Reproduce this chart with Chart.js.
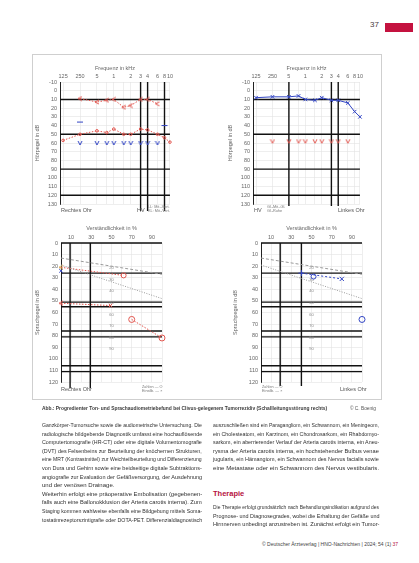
<!DOCTYPE html>
<html lang="de">
<head>
<meta charset="utf-8">
<title>Ton- und Sprachaudiogramm</title>
<script src="https://cdn.jsdelivr.net/npm/chart.js@4.4.1/dist/chart.umd.min.js"></script>
<style>
    html, body { margin: 0; padding: 0; background: #fff; }
    body { width: 419px; height: 563px; position: relative; overflow: hidden; font-family: 'Liberation Sans', Arial, sans-serif; color: #333; }
    .abs { position: absolute; white-space: nowrap; }
    canvas { position: absolute; }
    #pageNo { left: 370px; top: 20px; font-size: 8px; color: #4a3a40; }
    #pageBar { left: 385px; top: 23px; width: 28px; height: 9px; background: #c4123f; }
    #figBox { left: 32px; top: 54px; width: 348px; height: 344px; border: 1px solid #cfcfcf; }
    .foot { font-size: 5.5px; color: #555; line-height: 6px; }
    .tiny { font-size: 3.8px; color: #777; line-height: 4.4px; }
    #caption { left: 42px; top: 406px; font-size: 4.9px; font-weight: bold; color: #3a3a3a; }
    #credit { left: 350px; top: 406px; font-size: 4.8px; color: #555; }
    .line { position: absolute; white-space: nowrap; font-size: 6px; color: #303030; transform-origin: 0 0; }
    #therapie { left: 213px; top: 489px; font-size: 7.5px; font-weight: bold; color: #b5123e; }
    #footer { left: 262px; top: 541px; font-size: 5px; color: #444; }
    #footer span { color: #b5123e; }
</style>
</head>
<body>
<div id="pageNo" class="abs">37</div>
<div id="pageBar" class="abs"></div>
<div id="figBox" class="abs"></div>

<canvas id="audioRechts" width="141" height="156" style="left:34px;top:60px"></canvas>
<canvas id="audioLinks" width="138" height="156" style="left:227px;top:60px"></canvas>
<canvas id="sprachRechts" width="133" height="172" style="left:34px;top:224px"></canvas>
<canvas id="sprachLinks" width="135" height="172" style="left:232px;top:224px"></canvas>

<div class="abs foot" style="left:61px;top:207px">Rechtes Ohr</div>
<div class="abs foot" style="left:137px;top:207px">HV</div>
<div class="abs tiny" style="left:148px;top:205px">LL: Mit.-Vert.<br>KL: Mit.-Vert.</div>
<div class="abs foot" style="left:254px;top:207px">HV</div>
<div class="abs tiny" style="left:267px;top:205px">Gl.-Mit.-Gl.<br>Gl.-Ruhe</div>
<div class="abs foot" style="left:338px;top:207px">Linkes Ohr</div>
<div class="abs foot" style="left:61px;top:386px">Rechtes Ohr</div>
<div class="abs tiny" style="left:142px;top:385px">Zahlen — O<br>Einsilb. — ×</div>
<div class="abs tiny" style="left:262px;top:385px">Zahlen — O<br>Einsilb. — ×</div>
<div class="abs foot" style="left:340px;top:386px">Linkes Ohr</div>

<div id="caption" class="abs">Abb.: Progredienter Ton- und Sprachaudiometriebefund bei Clivus-gelegenem Tumorrezidiv (Schallleitungsstörung rechts)</div>
<div id="credit" class="abs">© C. Boenig</div>

<div id="therapie" class="abs">Therapie</div>
<div id="footer" class="abs">© Deutscher Ärzteverlag | HNO-Nachrichten | 2024; 54 (1) <span>37</span></div>

<script>
// Tonaudiogramm: Frequenzachse
var freqTicks = [0.125, 0.25, 0.5, 0.75, 1, 1.5, 2, 3, 4, 6, 8, 10];
var freqTickLabels = ['125', '250', '5', '', '1', '', '2', '3', '4', '6', '8', '10'];

// rechtes Ohr
var reKlFreq = [0.25, 0.5, 0.75, 1, 1.5, 2, 3, 4, 6];
var reKlDb = [9, 13, 11, 10, 19, 17, 10, 10, 15];
var reLlFreq = [0.125, 0.25, 0.5, 0.75, 1, 1.5, 2, 3, 4, 6, 8, 10];
var reLlDb = [57, 50, 46, 48, 44, 50, 50, 44, 45, 50, 54, 59];
var reUclFreq = [0.25, 0.5, 0.75, 1, 1.5, 2, 3, 4, 6];
var reUclDb = [60, 60, 60, 60, 60, 60, 60, 60, 60];
var reMarkFreq = [0.25, 8];
var reMarkDb = [36, 40];
var reThickFreq = [3, 4, 8];
var reThickDb = [10, 50, 90, 120];

// linkes Ohr
var liLlFreq = [0.125, 0.25, 0.5, 0.75, 1, 1.5, 2, 3, 4, 6, 8, 10];
var liLlDb = [8, 7, 7, 6, 10, 11, 8, 11, 11, 14, 24, 30];
var liUclFreq = [0.25, 0.5, 0.75, 1, 1.5, 2, 3, 4, 6];
var liUclDb = [58, 58, 58, 58, 58, 58, 58, 58, 58];
var liThickFreq = [0.5, 3, 4];
var liThickDb = [10, 50, 90, 120];

// Sprachaudiogramm
var normZahlenPct = [0, 100];
var normZahlenDb = [13, 27];
var normEinsPct = [0, 100];
var normEinsDb = [19, 48];
var midLabelDb = [20, 30, 40, 50, 60, 70, 80, 90];

var reZahlenPct = [0, 62];
var reZahlenDb = [21, 28];
var reEinsPct = [0, 49];
var reEinsDb = [52, 54];
var reEins2Pct = [70, 100];
var reEins2Db = [66, 82];
var reBluePct = [0];
var reBlueDb = [24];
var reSpThickPct = [9, 29];
var reSpThickDb = [0, 26, 51, 55, 76, 81, 106, 111];

var liZahlenPct = [40, 80];
var liZahlenDb = [26, 31];
var liMidPct = [52];
var liMidDb = [29];
var liEinsPct = [100];
var liEinsDb = [66];
var liSpThickPct = [19, 40];
var liSpThickDb = [0, 26, 51, 55, 76, 81, 106, 111];

var red = '#e2564f';
var blue = '#3346c4';
var grey = '#9a9a9a';
var textColor = '#666';
var gridColor = '#e2e2e2';
var tickFont = { family: 'Liberation Sans', size: 5.5 };

function pts(xs, ys) {
    return xs.map(function (x, i) { return { x: x, y: ys[i] }; });
}

// kleine Symbole fuer < und v
function marker(shape, color, size) {
    var c = document.createElement('canvas');
    c.width = size;
    c.height = size;
    var g = c.getContext('2d');
    g.strokeStyle = color;
    g.lineWidth = 1;
    g.beginPath();
    if (shape === 'lt') {
        g.moveTo(size - 1, 1); g.lineTo(1, size / 2); g.lineTo(size - 1, size - 1);
    } else {
        g.moveTo(1, 1); g.lineTo(size / 2, size - 1); g.lineTo(size - 1, 1);
    }
    g.stroke();
    return c;
}

// dicke schwarze Linien + Zahlen in der Mitte
var refLines = {
    id: 'refLines',
    beforeDatasetsDraw: function (chart, args, opts) {
        var ctx = chart.ctx;
        var area = chart.chartArea;
        var xs = chart.scales.x;
        var ys = chart.scales.y;
        ctx.save();
        ctx.strokeStyle = '#111';
        ctx.lineWidth = 1.4;
        (opts.x || []).forEach(function (v) {
            var px = xs.getPixelForValue(v);
            ctx.beginPath();
            ctx.moveTo(px, area.top);
            ctx.lineTo(px, area.bottom + (opts.extend || 0));
            ctx.stroke();
        });
        (opts.y || []).forEach(function (v) {
            var py = ys.getPixelForValue(v);
            ctx.beginPath();
            ctx.moveTo(area.left, py);
            ctx.lineTo(area.right, py);
            ctx.stroke();
        });
        if (opts.mid) {
            ctx.fillStyle = '#888';
            ctx.font = '4px Liberation Sans';
            ctx.textAlign = 'center';
            ctx.textBaseline = 'middle';
            opts.mid.forEach(function (v) {
                ctx.fillText(String(v), xs.getPixelForValue(opts.midX), ys.getPixelForValue(v) + 2);
            });
        }
        ctx.restore();
    }
};

function yScale(min, max, title, width) {
    return {
        type: 'linear',
        reverse: true,
        min: min,
        max: max,
        ticks: { stepSize: 10, autoSkip: false, font: tickFont, color: textColor, padding: 3 },
        grid: { color: gridColor, lineWidth: 0.6, drawTicks: false },
        border: { color: '#222', width: 1 },
        title: { display: true, text: title, font: tickFont, color: textColor, padding: { top: 0, bottom: 4 } },
        afterFit: function (s) { s.width = width; }
    };
}

function freqScale() {
    return {
        type: 'logarithmic',
        position: 'top',
        min: 0.11,
        max: 10,
        afterBuildTicks: function (s) {
            s.ticks = freqTicks.map(function (v) { return { value: v }; });
        },
        ticks: {
            font: tickFont, color: textColor, padding: 2, autoSkip: false, maxRotation: 0,
            callback: function (value, index) { return freqTickLabels[index]; }
        },
        grid: { color: gridColor, lineWidth: 0.6, drawTicks: false },
        border: { display: false },
        title: { display: true, text: 'Frequenz in kHz', font: tickFont, color: textColor, padding: { top: 5, bottom: 1 } },
        afterFit: function (s) { s.height = 22; }
    };
}

function pctScale() {
    return {
        type: 'linear',
        position: 'top',
        min: 0,
        max: 100,
        ticks: {
            stepSize: 10, autoSkip: false, font: tickFont, color: textColor, padding: 2, maxRotation: 0,
            callback: function (value) { return value % 20 === 10 ? value : ''; }
        },
        grid: { color: gridColor, lineWidth: 0.6, drawTicks: false },
        border: { display: false },
        title: { display: true, text: 'Verständlichkeit in %', font: tickFont, color: textColor, padding: { top: 1, bottom: 0 } },
        afterFit: function (s) { s.height = 19; }
    };
}

function makeChart(id, datasets, xScale, y, lines, pad) {
    var ctx = document.getElementById(id).getContext('2d');
    return new Chart(ctx, {
        type: 'scatter',
        data: { datasets: datasets },
        options: {
            responsive: false,
            animation: false,
            layout: { padding: pad },
            scales: { x: xScale, y: y },
            plugins: { legend: { display: false }, tooltip: { enabled: false }, refLines: lines }
        },
        plugins: [refLines]
    });
}

function dotted(xs, ys, color, dash, extra) {
    var ds = {
        data: pts(xs, ys),
        showLine: true,
        borderColor: color,
        backgroundColor: color,
        borderWidth: 1,
        borderDash: dash,
        clip: false,
        pointRadius: 1.5,
        pointBorderWidth: 1
    };
    for (var k in extra) { ds[k] = extra[k]; }
    return ds;
}

function symbols(xs, ys, color, style, radius) {
    return {
        data: pts(xs, ys),
        showLine: false,
        borderColor: color,
        backgroundColor: 'rgba(0,0,0,0)',
        pointStyle: style,
        pointRadius: radius,
        pointBorderWidth: 1,
        clip: false
    };
}

// Tonaudiogramm rechts
makeChart('audioRechts', [
    dotted(reKlFreq, reKlDb, red, [1.5, 1.5], { pointStyle: marker('lt', red, 6) }),
    dotted(reLlFreq, reLlDb, red, [1.5, 1.5], { pointRadius: 1.3, backgroundColor: 'rgba(0,0,0,0)' }),
    symbols(reUclFreq, reUclDb, blue, marker('v', blue, 6), 3),
    symbols(reMarkFreq, reMarkDb, blue, 'line', 3)
], freqScale(), yScale(-10, 130, 'Hörpegel in dB', 26), { x: reThickFreq, y: reThickDb, extend: 7 }, { right: 2, bottom: 12 });

// Tonaudiogramm links
makeChart('audioLinks', [
    dotted(liLlFreq, liLlDb, blue, [], { pointStyle: 'crossRot', pointRadius: 2.5 }),
    symbols(liUclFreq, liUclDb, red, marker('v', red, 6), 3)
], freqScale(), yScale(-10, 130, 'Hörpegel in dB', 26), { x: liThickFreq, y: liThickDb, extend: 2 }, { right: 2, bottom: 12 });

// Sprachaudiogramm rechts
makeChart('sprachRechts', [
    dotted(normZahlenPct, normZahlenDb, grey, [3, 2], { pointRadius: 0 }),
    dotted(normEinsPct, normEinsDb, grey, [1, 1.5], { pointRadius: 0 }),
    dotted(reZahlenPct, reZahlenDb, red, [1.5, 1.5], { pointStyle: [marker('lt', '#d9a441', 6), 'circle'], pointRadius: 2.5, backgroundColor: 'rgba(0,0,0,0)' }),
    dotted(reEinsPct, reEinsDb, red, [1.5, 1.5], { pointStyle: [marker('lt', red, 6), 'crossRot'], pointRadius: 2.5 }),
    dotted(reEins2Pct, reEins2Db, red, [1.5, 1.5], { pointStyle: 'circle', pointRadius: 3, backgroundColor: 'rgba(0,0,0,0)' }),
    symbols(reBluePct, reBlueDb, blue, 'crossRot', 2.5)
], pctScale(), yScale(0, 120, 'Sprachpegel in dB', 27), { x: reSpThickPct, y: reSpThickDb, extend: 6, mid: midLabelDb, midX: 50 }, { right: 2, bottom: 14 });

// Sprachaudiogramm links
makeChart('sprachLinks', [
    dotted(normZahlenPct, normZahlenDb, grey, [3, 2], { pointRadius: 0 }),
    dotted(normEinsPct, normEinsDb, grey, [1, 1.5], { pointRadius: 0 }),
    dotted(liZahlenPct, liZahlenDb, blue, [2, 2], { pointStyle: ['cross', 'crossRot'], pointRadius: 3 }),
    symbols(liMidPct, liMidDb, blue, 'circle', 2.5),
    symbols(liEinsPct, liEinsDb, blue, 'circle', 3)
], pctScale(), yScale(0, 120, 'Sprachpegel in dB', 29), { x: liSpThickPct, y: liSpThickDb, extend: 4, mid: midLabelDb, midX: 50 }, { right: 2, bottom: 14 });

// Fliesstext, Zeile fuer Zeile im Blocksatz
var leftLines = [
    'Ganzkörper-Tumorsuche sowie die audiometrische Untersuchung. Die',
    'radiologische bildgebende Diagnostik umfasst eine hochauflösende',
    'Computertomografie (HR-CT) oder eine digitale Volumentomografie',
    '(DVT) des Felsenbeins zur Beurteilung der knöchernen Strukturen,',
    'eine MRT (Kontrastmittel) zur Weichteilbeurteilung und Differenzierung',
    'von Dura und Gehirn sowie eine beidseitige digitale Subtraktions-',
    'angiografie zur Evaluation der Gefäßversorgung, der Ausdehnung',
    '|und der venösen Drainage.',
    '   Weiterhin erfolgt eine präoperative Embolisation (gegebenen-',
    'falls auch eine Ballonokklusion der Arteria carotis interna). Zum',
    'Staging kommen wahlweise ebenfalls eine Bildgebung mittels Soma-',
    'tostatinrezeptorszintigrafie oder DOTA-PET. Differenzialdiagnostisch'
];
var rightLines = [
    'auszuschließen sind ein Paragangliom, ein Schwannom, ein Meningeom,',
    'ein Cholesteatom, ein Karzinom, ein Chondrosarkom, ein Rhabdomyo-',
    'sarkom, ein aberrierender Verlauf der Arteria carotis interna, ein Aneu-',
    'rysma der Arteria carotis interna, ein hochstehender Bulbus venae',
    'jugularis, ein Hämangiom, ein Schwannom des Nervus facialis sowie',
    'eine Metastase oder ein Schwannom des Nervus vestibularis.'
];
var therapyLines = [
    'Die Therapie erfolgt grundsätzlich nach Behandlungsindikation aufgrund des',
    'Prognose- und Diagnosegrades, wobei die Erhaltung der Gefäße und',
    'Hirnnerven unbedingt anzustreben ist. Zunächst erfolgt ein Tumor-'
];

function setLines(lines, left, top, width, step) {
    lines.forEach(function (t, i) {
        var el = document.createElement('div');
        el.className = 'line';
        var last = t.charAt(0) === '|';
        el.textContent = last ? t.slice(1) : t;
        el.style.left = left + 'px';
        el.style.top = (top + i * step) + 'px';
        document.body.appendChild(el);
        if (!last) {
            el.style.transform = 'scaleX(' + (width / el.scrollWidth) + ')';
        }
    });
}

setLines(leftLines, 42, 422, 160, 8.6);
setLines(rightLines, 213, 422, 166, 8.6);
setLines(therapyLines, 213, 504, 166, 8.6);
</script>
</body>
</html>
